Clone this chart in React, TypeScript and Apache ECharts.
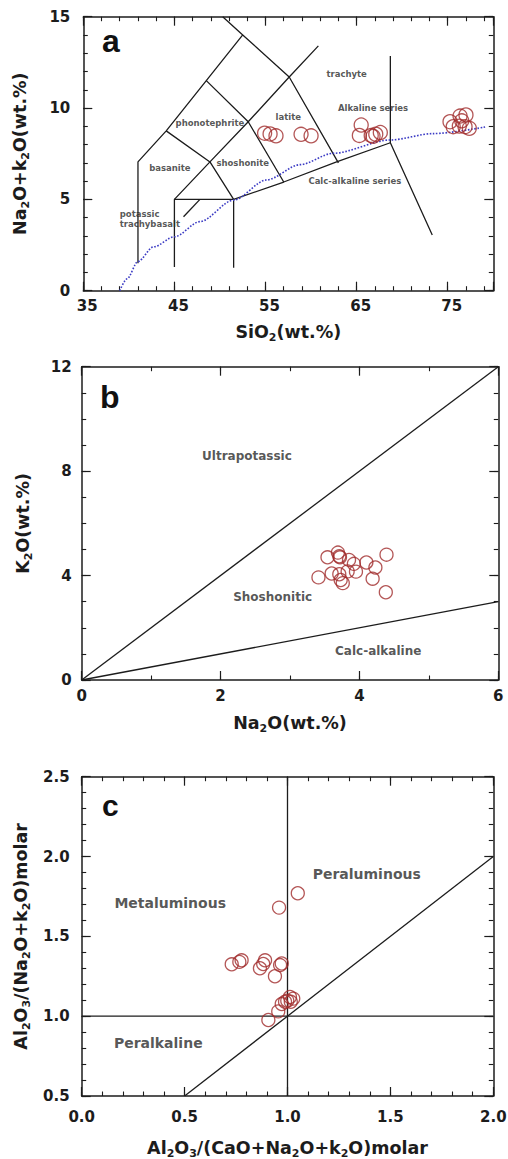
import React, { useEffect, useRef } from 'react';
import * as echarts from 'echarts';

// ---------- Panel a: TAS (SiO2 vs Na2O+K2O) ----------
const aSiO2 = [54.9, 55.5, 56.15, 58.9, 60.0, 65.5, 65.3, 66.6, 67.1, 67.6, 66.8, 75.25, 76.35, 77.0, 75.6, 76.27, 76.9, 77.37, 76.54];
const aAlkali = [8.62, 8.58, 8.48, 8.56, 8.48, 9.07, 8.5, 8.5, 8.57, 8.66, 8.45, 9.25, 9.56, 9.62, 8.98, 9.01, 8.98, 8.89, 9.3];

const tasBoundaries: number[][][] = [
  [[50.3, 15], [52.5, 14], [57.6, 11.7], [63, 7.0]],
  [[52.5, 14], [48.5, 11.5], [44.1, 8.75], [41.0, 7.05], [41.0, 1.5]],
  [[44.1, 8.75], [48.9, 7.05], [51.5, 5.0], [51.5, 1.25]],
  [[45, 1.3], [45, 5], [51.5, 5]],
  [[45, 5], [48.9, 7.05], [53.1, 9.25], [57.6, 11.7], [60.8, 13.4]],
  [[48.5, 11.5], [53.1, 9.25], [57.0, 5.95]],
  [[51.5, 5.0], [57.0, 5.95], [62.8, 7.05], [68.7, 8.1]],
  [[68.7, 12.85], [68.7, 8.1], [73.3, 3.05]],
  [[47.8, 5.0], [46.0, 4.05]],
];
const alkalineDivide: number[][] = [
  [39.0, 0], [39.8, 0.65], [41.0, 1.6], [42.7, 2.4], [45.0, 2.95], [47.8, 3.78], [51.5, 4.96],
  [55.1, 6.06], [58.8, 6.9], [62.4, 7.52], [68.7, 8.25], [73.4, 8.6], [79.1, 8.96],
];
const tasFieldNames = ['trachyte', 'Alkaline series', 'latite', 'phonotephrite', 'basanite', 'shoshonite', 'Calc-alkaline series'];
const tasFieldX = [63.9, 66.8, 57.5, 48.9, 44.5, 52.5, 64.8];
const tasFieldY = [11.86, 9.98, 9.52, 9.19, 6.7, 7.0, 6.0];
const tasNoteName = ['potassic\ntrachybasalt'];
const tasNoteX = [39.0];
const tasNoteY = [3.9];

// ---------- Panel b: K2O vs Na2O ----------
const bNa2O = [3.41, 3.54, 3.69, 3.72, 3.85, 3.92, 4.10, 4.23, 4.39, 3.60, 3.71, 3.83, 3.95, 3.76, 3.73, 4.19, 4.38, 3.71];
const bK2O = [3.93, 4.70, 4.88, 4.70, 4.60, 4.45, 4.50, 4.31, 4.80, 4.08, 4.05, 4.16, 4.15, 3.71, 3.83, 3.88, 3.36, 4.74];
const kDividers: number[][][] = [
  [[0, 0], [6, 12]],
  [[0, 0], [6, 3]],
];
const kFieldNames = ['Ultrapotassic', 'Shoshonitic', 'Calc-alkaline'];
const kFieldX = [2.38, 2.75, 4.27];
const kFieldY = [8.58, 3.19, 1.12];

// ---------- Panel c: A/NK vs A/CNK ----------
const cACNK = [1.05, 0.959, 0.729, 0.766, 0.777, 0.866, 0.882, 0.891, 0.964, 0.972, 0.939, 1.012, 1.028, 0.999, 0.988, 0.972, 1.016, 0.955, 0.907];
const cANK = [1.77, 1.68, 1.325, 1.34, 1.35, 1.30, 1.327, 1.35, 1.32, 1.33, 1.25, 1.12, 1.11, 1.097, 1.09, 1.076, 1.09, 1.03, 0.976];
const aDividers: number[][][] = [
  [[1, 0.5], [1, 2.5]],
  [[0, 1], [2, 1]],
  [[0.5, 0.5], [2, 2]],
];
const aFieldNames = ['Metaluminous', 'Peraluminous', 'Peralkaline'];
const aFieldX = [0.43, 1.385, 0.372];
const aFieldY = [1.707, 1.89, 0.83];

const panelLetters = ['a', 'b', 'c'];

// ---------- styling ----------
const FONT = 'DejaVu Sans';
const INK = '#1c1c1c';
const MARK = '#a02c2c';

const nameStyle = {
  fontFamily: FONT,
  fontWeight: 'bold' as const,
  fontSize: 17.5,
  color: INK,
  lineHeight: 22,
  rich: {
    sub: { fontFamily: FONT, fontWeight: 'bold' as const, fontSize: 11, lineHeight: 11, verticalAlign: 'bottom' as const, color: INK },
  },
};

interface AxisSpec {
  min: number;
  max: number;
  major: number;
  minor: number;
  fmt: (v: number) => string;
  margin: number;
  name: string;
  nameGap: number;
  pad?: number[];
}

function addAxes(list: any[], gridIndex: number, s: AxisSpec, main: string, opp: string): number {
  const idx = list.length;
  const base = { type: 'value', gridIndex, min: s.min, max: s.max, splitLine: { show: false }, silent: true };
  const line = { show: true, onZero: false, lineStyle: { color: INK, width: 1.5 } };
  const noLine = { show: false, onZero: false };
  const longTick = { show: true, inside: true, length: 9, lineStyle: { color: INK, width: 1.2 } };
  const shortTick = { show: true, inside: true, length: 4.5, lineStyle: { color: INK, width: 1.1 } };
  list.push({
    ...base,
    position: main,
    interval: s.major,
    axisLine: line,
    axisTick: longTick,
    axisLabel: {
      show: true,
      margin: s.margin,
      formatter: s.fmt,
      fontFamily: FONT,
      fontWeight: 'bold',
      fontSize: 15,
      color: INK,
      padding: s.pad || 0,
    },
    name: s.name,
    nameLocation: 'middle',
    nameGap: s.nameGap,
    nameTextStyle: nameStyle,
  });
  list.push({ ...base, position: main, interval: s.minor, axisLine: noLine, axisTick: shortTick, axisLabel: { show: false } });
  list.push({ ...base, position: opp, interval: s.major, axisLine: line, axisTick: longTick, axisLabel: { show: false } });
  list.push({ ...base, position: opp, interval: s.minor, axisLine: noLine, axisTick: shortTick, axisLabel: { show: false } });
  return idx;
}

function pts(xs: number[], ys: number[]) {
  return xs.map((x, i) => [x, ys[i]]);
}

function buildOption() {
  const grids = [
    { left: 83.3, top: 16.7, width: 410, height: 274, outerBoundsMode: 'none' },
    { left: 81.7, top: 366.7, width: 416.6, height: 313.3, outerBoundsMode: 'none' },
    { left: 81.7, top: 776.7, width: 411.6, height: 319.3, outerBoundsMode: 'none' },
  ];
  const xAxis: any[] = [];
  const yAxis: any[] = [];

  const int = (v: number) => String(v);
  const ax = addAxes(xAxis, 0, {
    min: 35, max: 80, major: 10, minor: 2, fmt: (v) => (v === 80 ? '' : String(v)), margin: 8,
    name: 'SiO{sub|2}(wt.%)', nameGap: 30, pad: [0, 0, 0, 8],
  }, 'bottom', 'top');
  const ay = addAxes(yAxis, 0, {
    min: 0, max: 15, major: 5, minor: 1, fmt: int, margin: 13,
    name: 'Na{sub|2}O+k{sub|2}O(wt.%)', nameGap: 52,
  }, 'left', 'right');
  const bx = addAxes(xAxis, 1, {
    min: 0, max: 6, major: 2, minor: 1, fmt: int, margin: 8,
    name: 'Na{sub|2}O(wt.%)', nameGap: 32,
  }, 'bottom', 'top');
  const by = addAxes(yAxis, 1, {
    min: 0, max: 12, major: 4, minor: 1, fmt: int, margin: 10,
    name: 'K{sub|2}O(wt.%)', nameGap: 48,
  }, 'left', 'right');
  const cx = addAxes(xAxis, 2, {
    min: 0, max: 2, major: 0.5, minor: 0.1, fmt: (v) => v.toFixed(1), margin: 13,
    name: 'Al{sub|2}O{sub|3}/(CaO+Na{sub|2}O+k{sub|2}O)molar', nameGap: 41,
  }, 'bottom', 'top');
  const cy = addAxes(yAxis, 2, {
    min: 0.5, max: 2.5, major: 0.5, minor: 0.1, fmt: (v) => v.toFixed(1), margin: 12,
    name: 'Al{sub|2}O{sub|3}/(Na{sub|2}O+k{sub|2}O)molar', nameGap: 50,
  }, 'left', 'right');

  const series: any[] = [];
  const boundary = (data: number[][], xi: number, yi: number) => ({
    type: 'line', xAxisIndex: xi, yAxisIndex: yi, data, symbol: 'none', silent: true,
    lineStyle: { color: INK, width: 1.3 }, z: 2,
  });
  const scatter = (xs: number[], ys: number[], xi: number, yi: number, size: number) => ({
    type: 'scatter', xAxisIndex: xi, yAxisIndex: yi, data: pts(xs, ys), symbol: 'circle', symbolSize: size,
    itemStyle: { color: 'rgba(0,0,0,0)', borderColor: MARK, borderWidth: 1.3 }, silent: true, z: 5,
  });
  const labels = (names: string[], xs: number[], ys: number[], xi: number, yi: number, fontSize: number, align: string) => ({
    type: 'scatter', xAxisIndex: xi, yAxisIndex: yi, symbolSize: 1, silent: true, z: 4,
    itemStyle: { color: 'rgba(0,0,0,0)' },
    data: names.map((n, i) => ({ name: n, value: [xs[i], ys[i]] })),
    label: {
      show: true, position: 'inside', formatter: '{b}', align, fontFamily: FONT, fontWeight: 'bold',
      fontSize, color: '#2b2b2b', lineHeight: fontSize + 1.5,
    },
  });

  tasBoundaries.forEach((l) => series.push(boundary(l, ax, ay)));
  series.push({
    type: 'line', xAxisIndex: ax, yAxisIndex: ay, data: alkalineDivide, symbol: 'none', silent: true,
    smooth: 0.3, smoothMonotone: 'x',
    lineStyle: { color: '#3b3bc4', width: 1.6, type: 'dotted' }, z: 3,
  });
  series.push(labels(tasFieldNames, tasFieldX, tasFieldY, ax, ay, 8.5, 'center'));
  series.push(labels(tasNoteName, tasNoteX, tasNoteY, ax, ay, 8.5, 'left'));
  series.push(scatter(aSiO2, aAlkali, ax, ay, 14));

  kDividers.forEach((l) => series.push(boundary(l, bx, by)));
  series.push(labels(kFieldNames, kFieldX, kFieldY, bx, by, 12, 'center'));
  series.push(scatter(bNa2O, bK2O, bx, by, 13));

  aDividers.forEach((l) => series.push(boundary(l, cx, cy)));
  series.push(labels(aFieldNames, aFieldX, aFieldY, cx, cy, 14, 'center'));
  series.push(scatter(cACNK, cANK, cx, cy, 13));

  const letterPos = [
    { x: 102, y: 41, size: 32 },
    { x: 100, y: 397, size: 32 },
    { x: 102, y: 805, size: 30 },
  ];
  const graphic = panelLetters.map((t, i) => ({
    type: 'text',
    x: letterPos[i].x,
    y: letterPos[i].y,
    silent: true,
    style: {
      text: t,
      fontFamily: 'Liberation Sans',
      fontWeight: 'bold',
      fontSize: letterPos[i].size,
      fill: '#111',
      textAlign: 'left',
      textVerticalAlign: 'middle',
    },
  }));

  return {
    animation: false,
    backgroundColor: '#ffffff',
    grid: grids,
    xAxis,
    yAxis,
    series,
    graphic,
  };
}

export default function App() {
  const ref = useRef<HTMLDivElement>(null);
  useEffect(() => {
    if (!ref.current) return;
    const chart = echarts.init(ref.current, null, { renderer: 'svg' });
    chart.setOption(buildOption() as any);
    return () => chart.dispose();
  }, []);
  return (
    <div
      ref={ref}
      style={{ position: 'absolute', left: 0, top: 0, width: 508, height: 1159, background: '#fff' }}
    />
  );
}
